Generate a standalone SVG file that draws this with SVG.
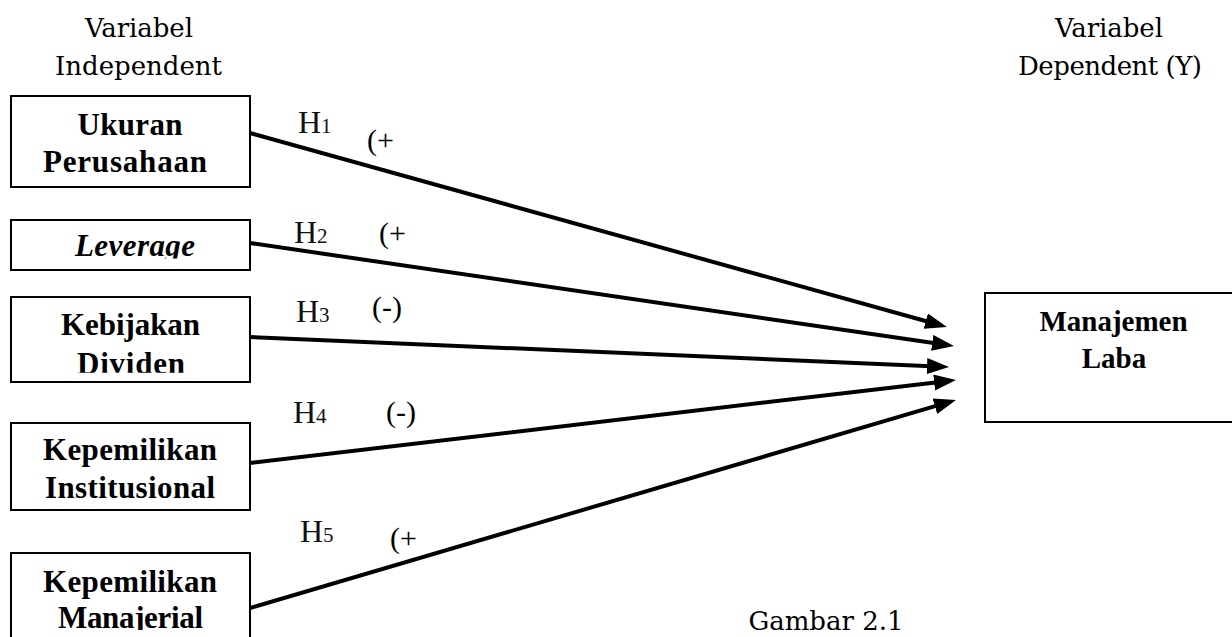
<svg xmlns="http://www.w3.org/2000/svg" width="1232" height="637" viewBox="0 0 1232 637">
<style>
.box{fill:#fff;stroke:#000;stroke-width:2}
.lbl{font-family:"Liberation Serif",serif;font-weight:bold;font-size:31px;fill:#000;text-anchor:middle}
.reg{font-family:"DejaVu Serif","Liberation Serif",serif;font-size:26px;fill:#000;text-anchor:middle}
.h{font-family:"Liberation Serif",serif;font-size:32px;fill:#111}
.sub{font-size:21px}
.sign{font-family:"Liberation Serif",serif;font-size:30px;fill:#000}
.tnr{font-family:"Liberation Serif",serif;font-weight:bold;font-size:29px;fill:#000;text-anchor:middle}
.conn line{stroke:#000;stroke-width:4;fill:none}
</style>
<defs>
<marker id="ah" markerUnits="userSpaceOnUse" markerWidth="24" markerHeight="18" refX="10" refY="8" orient="auto">
<path d="M0,0 L22,8 L0,16 z" fill="#000"/>
</marker>
<clipPath id="c2"><rect x="0" y="215" width="260" height="43.5"/></clipPath>
<clipPath id="c3"><rect x="0" y="290" width="260" height="82.7"/></clipPath>
<clipPath id="c5"><rect x="0" y="540" width="260" height="90"/></clipPath>
</defs>
<rect width="1232" height="637" fill="#fff"/>
<g id="header-independent">
<text class="reg" x="139" y="37" textLength="108">Variabel</text>
<text class="reg" x="138.5" y="75" textLength="167">Independent</text>
</g>
<g id="header-dependent">
<text class="reg" x="1109" y="37" textLength="108">Variabel</text>
<text class="reg" x="1110" y="75" textLength="184">Dependent (Y)</text>
</g>
<g id="node-ukuran">
<rect class="box" x="11" y="96" width="239" height="91"/>
<text class="lbl" x="130" y="135" textLength="105">Ukuran</text>
<text class="lbl" x="125" y="172" textLength="164">Perusahaan</text>
</g>
<g id="node-leverage">
<rect class="box" x="11" y="220" width="239" height="50"/>
<text class="lbl" x="135" y="255.5" font-style="italic" textLength="120" clip-path="url(#c2)">Leverage</text>
</g>
<g id="node-kebijakan">
<rect class="box" x="11" y="297" width="239" height="85"/>
<text class="lbl" x="130.5" y="335" textLength="139">Kebijakan</text>
<text class="lbl" x="131" y="374" textLength="108" clip-path="url(#c3)">Dividen</text>
</g>
<g id="node-institusional">
<rect class="box" x="11" y="423" width="239" height="87"/>
<text class="lbl" x="130" y="460" textLength="174">Kepemilikan</text>
<text class="lbl" x="130" y="498" textLength="170">Institusional</text>
</g>
<g id="node-manajerial">
<rect class="box" x="11" y="553" width="239" height="100"/>
<text class="lbl" x="130" y="592" textLength="174">Kepemilikan</text>
<text class="lbl" x="130.5" y="628" textLength="145" clip-path="url(#c5)">Manajerial</text>
</g>
<g id="node-manajemen-laba">
<rect class="box" x="985" y="293" width="260" height="129"/>
<text class="tnr" x="1113.5" y="331">Manajemen</text>
<text class="tnr" x="1114" y="368">Laba</text>
</g>
<g id="connectors" class="conn">
<line x1="250" y1="133" x2="935.4" y2="323.8" marker-end="url(#ah)"/>
<line x1="250" y1="243" x2="942.1" y2="344.3" marker-end="url(#ah)"/>
<line x1="250" y1="337" x2="937" y2="366.5" marker-end="url(#ah)"/>
<line x1="250" y1="463" x2="944.1" y2="381.4" marker-end="url(#ah)"/>
<line x1="250" y1="608" x2="944.5" y2="403.4" marker-end="url(#ah)"/>
</g>
<g id="connector-labels">
<text class="h" x="298" y="133">H<tspan class="sub">1</tspan></text>
<text class="sign" x="367" y="150">(+</text>
<text class="h" x="294" y="243">H<tspan class="sub">2</tspan></text>
<text class="sign" x="379" y="243">(+</text>
<text class="h" x="296" y="322">H<tspan class="sub">3</tspan></text>
<text class="sign" x="372" y="317">(-)</text>
<text class="h" x="293" y="423">H<tspan class="sub">4</tspan></text>
<text class="sign" x="386" y="422">(-)</text>
<text class="h" x="300" y="542">H<tspan class="sub">5</tspan></text>
<text class="sign" x="390" y="548">(+</text>
</g>
<g id="caption">
<text class="reg" x="826" y="630">Gambar 2.1</text>
</g>
</svg>
